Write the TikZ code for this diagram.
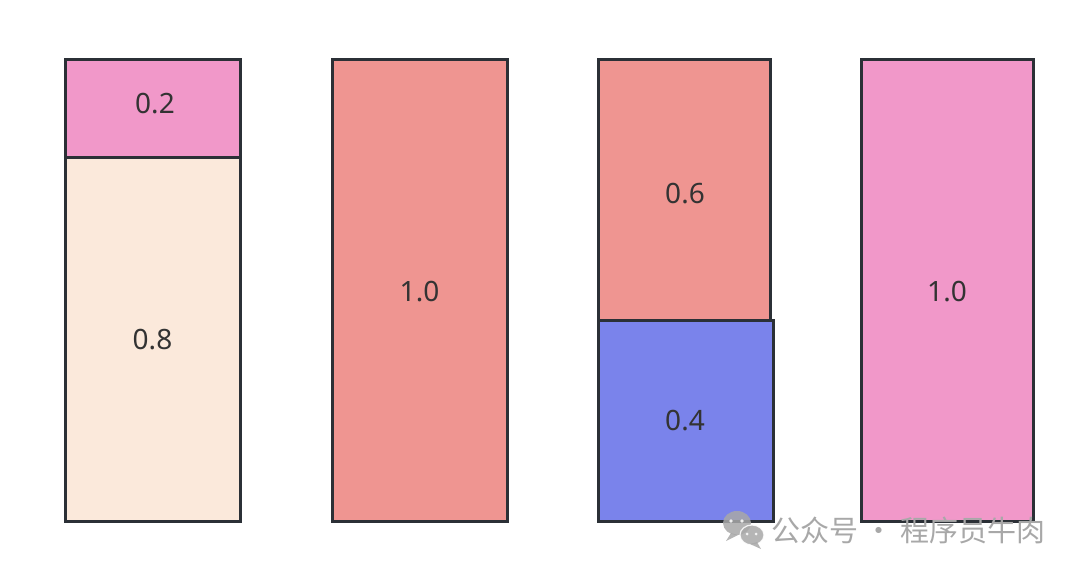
\documentclass[tikz,border=0pt]{standalone}
\usepackage{fontspec}
\setmainfont{Noto Sans}
\newfontfamily\cjk{Noto Sans CJK SC}
\definecolor{pinkc}{HTML}{F198C9}
\definecolor{salmonc}{HTML}{EF9591}
\definecolor{peachc}{HTML}{FBE9DB}
\definecolor{bluec}{HTML}{7A83EB}
\definecolor{edgec}{HTML}{2B3036}
\definecolor{txtc}{HTML}{333333}
\definecolor{wmc}{HTML}{A8A8A8}
\begin{document}
\begin{tikzpicture}[x=1pt,y=-1pt,
  seg/.style={draw=edgec,line width=3pt,line join=miter},
  lbl/.style={text=txtc,font=\fontsize{28}{32}\selectfont}]
\useasboundingbox (0,0) rectangle (1080,573);
% column 1
\filldraw[seg,fill=peachc] (65,157) rectangle (240,521);
\filldraw[seg,fill=pinkc] (65,59) rectangle (240,157);
\node[lbl] (a2) at (155,104) {0.2};
\node[lbl] (a8) at (152.5,340) {0.8};
% column 2
\filldraw[seg,fill=salmonc] (332,59) rectangle (507,521);
\node[lbl] (b1) at (419.5,292) {1.0};
% column 3
\filldraw[seg,fill=salmonc] (598,59) rectangle (770,320);
\filldraw[seg,fill=bluec] (598,320) rectangle (773,521);
\node[lbl] (c6) at (685,194) {0.6};
\node[lbl] (c4) at (685,421) {0.4};
% column 4
\filldraw[seg,fill=pinkc] (861,59) rectangle (1033,521);
\node[lbl] (d1) at (947,292) {1.0};
% watermark
\begin{scope}[opacity=0.85]
\fill[wmc] (737,523) ellipse (14 and 12);
\fill[wmc] (731,533) -- (726,541) -- (738,535) -- cycle;
\fill[white] (731,521) circle (1.8);
\fill[white] (742,521) circle (1.8);
\fill[wmc,draw=white,line width=1.2pt] (752,535) ellipse (12 and 10);
\fill[wmc] (757,542) -- (761,549) -- (750,544) -- cycle;
\fill[white] (747,534) circle (1.5);
\fill[white] (756,534) circle (1.5);
\end{scope}
\node[text=wmc,font=\cjk\fontsize{29}{32}\selectfont,anchor=west,inner sep=0pt] (wm) at (771,530) {公众号 · 程序员牛肉};
\end{tikzpicture}
\end{document}
